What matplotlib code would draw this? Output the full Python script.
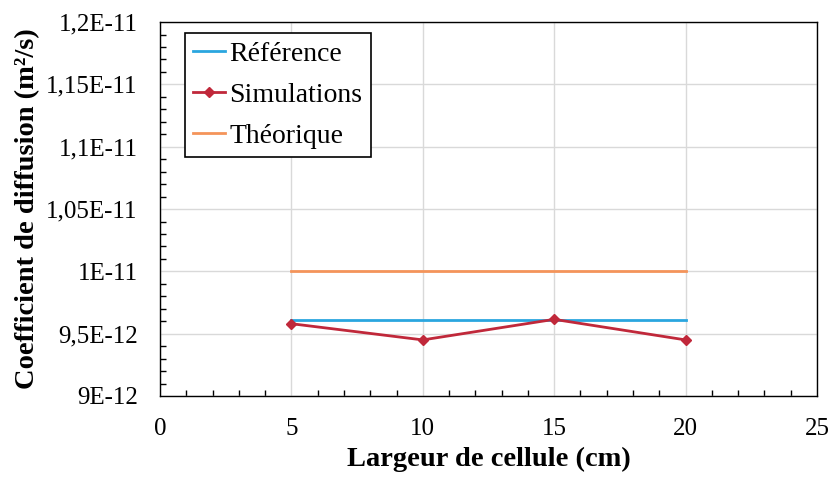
import numpy as np
import matplotlib.pyplot as plt
from matplotlib.ticker import MultipleLocator

plt.rcParams['font.family'] = ['Liberation Serif', 'DejaVu Serif']

largeur = [5, 10, 15, 20]
reference = [9.61e-12, 9.61e-12, 9.61e-12, 9.61e-12]
simulations = [9.58e-12, 9.45e-12, 9.615e-12, 9.45e-12]
theorique = [1e-11, 1e-11, 1e-11, 1e-11]

x_ticks = [0, 5, 10, 15, 20, 25]
y_ticks = [9e-12, 9.5e-12, 1e-11, 1.05e-11, 1.1e-11, 1.15e-11, 1.2e-11]
y_labels = ['9E-12', '9,5E-12', '1E-11', '1,05E-11', '1,1E-11', '1,15E-11', '1,2E-11']

fig = plt.figure(figsize=(8.29, 4.8), dpi=100)
ax = fig.add_axes([0.193, 0.175, 0.7925, 0.779])

ax.plot(largeur, reference, color='#2aa6df', linewidth=2, label='Référence')
ax.plot(largeur, simulations, color='#c0283a', linewidth=2, marker='D', markersize=5,
        label='Simulations')
ax.plot(largeur, theorique, color='#f4945a', linewidth=2, label='Théorique')

ax.set_xlim(0, 25)
ax.set_ylim(9e-12, 1.2e-11)
ax.set_xticks(x_ticks)
ax.set_yticks(y_ticks)
ax.set_yticklabels(y_labels)
ax.xaxis.set_minor_locator(MultipleLocator(1))
ax.yaxis.set_minor_locator(MultipleLocator(1e-13))
ax.grid(which='major', color='#d9d9d9', linewidth=1)
ax.set_axisbelow(True)
for side in ax.spines:
    ax.spines[side].set_color('black')
    ax.spines[side].set_linewidth(1)
ax.tick_params(which='major', length=0, labelsize=18, pad=16)
ax.tick_params(which='minor', direction='in', length=4, width=1, color='black')

ax.set_xlabel('Largeur de cellule (cm)', fontsize=20.5, fontweight='bold')
ax.set_ylabel('Coefficient de diffusion (m²/s)', fontsize=20.5, fontweight='bold')
ax.xaxis.set_label_coords(0.5, -0.135)
ax.yaxis.set_label_coords(-0.182, 0.5)

leg = ax.legend(loc='upper left', bbox_to_anchor=(0.038, 0.971), fontsize=20,
                fancybox=False, edgecolor='black', framealpha=1,
                handlelength=1.15, handletextpad=0.15, borderpad=0.3,
                labelspacing=0.56, borderaxespad=0)
leg.get_frame().set_linewidth(1.2)

fig.savefig('out.png', dpi=100)
